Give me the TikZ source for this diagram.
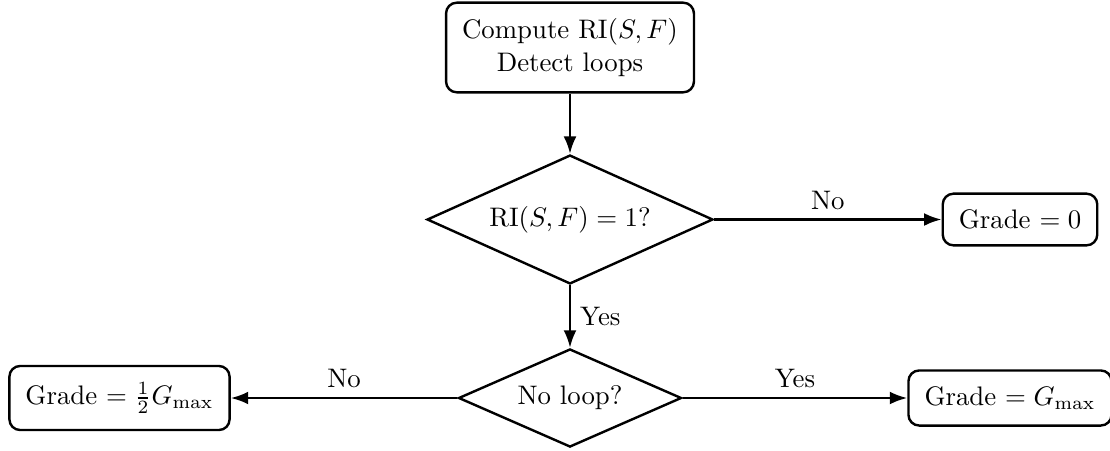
\documentclass[tikz,border=0pt]{standalone}
\usetikzlibrary{shapes.geometric,arrows.meta}
\begin{document}
\begin{tikzpicture}[x=0.37313pt,y=-0.37313pt,
  box/.style={draw, line width=0.9pt, rounded corners=4pt, inner sep=6pt, align=center},
  decision/.style={draw, line width=0.9pt, diamond, aspect=2.2, inner sep=0pt},
  flow/.style={line width=0.9pt, -{Latex[length=6.5pt,width=4.8pt]}}]
\useasboundingbox (0,0) rectangle (1110,450);
% process and decision nodes
\node[box] (compute) at (570,47.5) {Compute $\mathrm{RI}(S,F)$\\Detect loops};
\node[decision, minimum width=106.7pt, minimum height=48.1pt] (ri) at (570,219.5) {$\mathrm{RI}(S,F)=1$?};
\node[decision, minimum width=83.2pt, minimum height=36.6pt] (loop) at (570,398) {No loop?};
% outcomes
\node[box] (zero) at (1020,219.5) {Grade $=0$};
\node[box] (full) at (1010,398) {Grade $=G_{\max}$};
\node[box] (half) at (119.5,398) {Grade $=\frac{1}{2}G_{\max}$};
% connectors
\draw[flow] (compute) -- (ri);
\draw[flow] (ri.east) -- node[above] {No} (zero.west);
\draw[flow] (ri.south) -- node[right] {Yes} (loop.north);
\draw[flow] (loop.west) -- node[above] {No} (half.east);
\draw[flow] (loop.east) -- node[above] {Yes} (full.west);
\end{tikzpicture}
\end{document}
